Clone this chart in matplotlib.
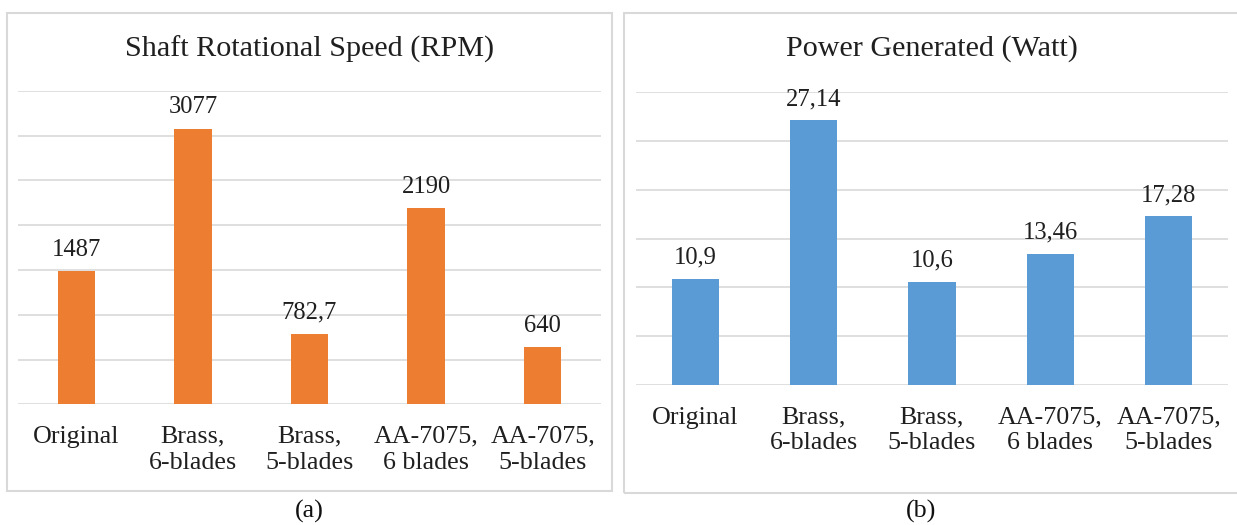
import matplotlib
matplotlib.use("Agg")
import matplotlib.pyplot as plt
from matplotlib.patches import Rectangle

categories = ["Original", "Brass,\n6-blades", "Brass,\n5-blades", "AA-7075,\n6 blades", "AA-7075,\n5-blades"]
rpm_values = [1487, 3077, 782.7, 2190, 640]
power_values = [10.9, 27.14, 10.6, 13.46, 17.28]
rpm_title = "Shaft Rotational Speed (RPM)"
power_title = "Power Generated (Watt)"
panel_labels = ["(a)", "(b)"]

W, H = 1237, 525
DPI = 100
fig = plt.figure(figsize=(W / DPI, H / DPI), dpi=DPI)
plt.rcParams['font.family'] = ['Liberation Serif', 'DejaVu Serif']
TXT = '#1f1f1f'
GRID = '#d9d9d9'
FS_CAT = 18.7
FS_VAL = 17.7
FS_TITLE = 21.7

def px_axes(x0, x1, ytop, ybot):
    return fig.add_axes([x0 / W, 1 - ybot / H, (x1 - x0) / W, (ybot - ytop) / H])

def fmt(v):
    return f"{v:g}".replace('.', ',')

def draw(ax, values, color, ymax, step, width, offset):
    x = range(len(values))
    ax.bar(x, values, width=width, color=color, zorder=3)
    ax.set_xlim(-0.5, len(values) - 0.5)
    ax.set_ylim(0, ymax)
    ax.set_yticks([i * step for i in range(int(ymax / step) + 1)])
    ax.yaxis.grid(True, color=GRID, linewidth=1.2, zorder=0)
    ax.set_axisbelow(True)
    ax.tick_params(axis='y', left=False, labelleft=False)
    ax.tick_params(axis='x', bottom=False, pad=12)
    ax.set_xticks(list(x))
    ax.set_xticklabels(categories, fontsize=FS_CAT, color=TXT, linespacing=1.22, va='top')
    for s in ax.spines.values():
        s.set_visible(False)
    ax.patch.set_alpha(0)
    for xi, v in zip(x, values):
        ax.annotate(fmt(v), (xi, v), xytext=(0, offset), textcoords='offset points',
                    ha='center', va='bottom', fontsize=FS_VAL, color=TXT)

# panel borders
fig.patches.append(Rectangle((7 / W, 1 - 491 / H), (612 - 7) / W, (491 - 13) / H,
                             transform=fig.transFigure, fill=False, edgecolor='#d9d9d9', linewidth=1.5))
fig.patches.append(Rectangle((624 / W, 1 - 493 / H), (1245 - 624) / W, (493 - 13) / H,
                             transform=fig.transFigure, fill=False, edgecolor='#d9d9d9', linewidth=1.5))

ax1 = px_axes(18, 601, 90.7, 404.3)
draw(ax1, rpm_values, '#ED7D31', 3500, 500, 0.32, 7.5)
ax2 = px_axes(636, 1228, 92.3, 385)
draw(ax2, power_values, '#5B9BD5', 30, 5, 0.40, 7)

fig.text(310 / W, 1 - 49 / H, rpm_title, ha='center', va='center', fontsize=FS_TITLE, color=TXT)
fig.text(932 / W, 1 - 49 / H, power_title, ha='center', va='center', fontsize=FS_TITLE, color=TXT)
fig.text(309 / W, 1 - 511 / H, panel_labels[0], ha='center', va='center', fontsize=FS_CAT, color='#111111')
fig.text(921 / W, 1 - 511 / H, panel_labels[1], ha='center', va='center', fontsize=FS_CAT, color='#111111')

fig.savefig("out.png", dpi=DPI, facecolor='white')
